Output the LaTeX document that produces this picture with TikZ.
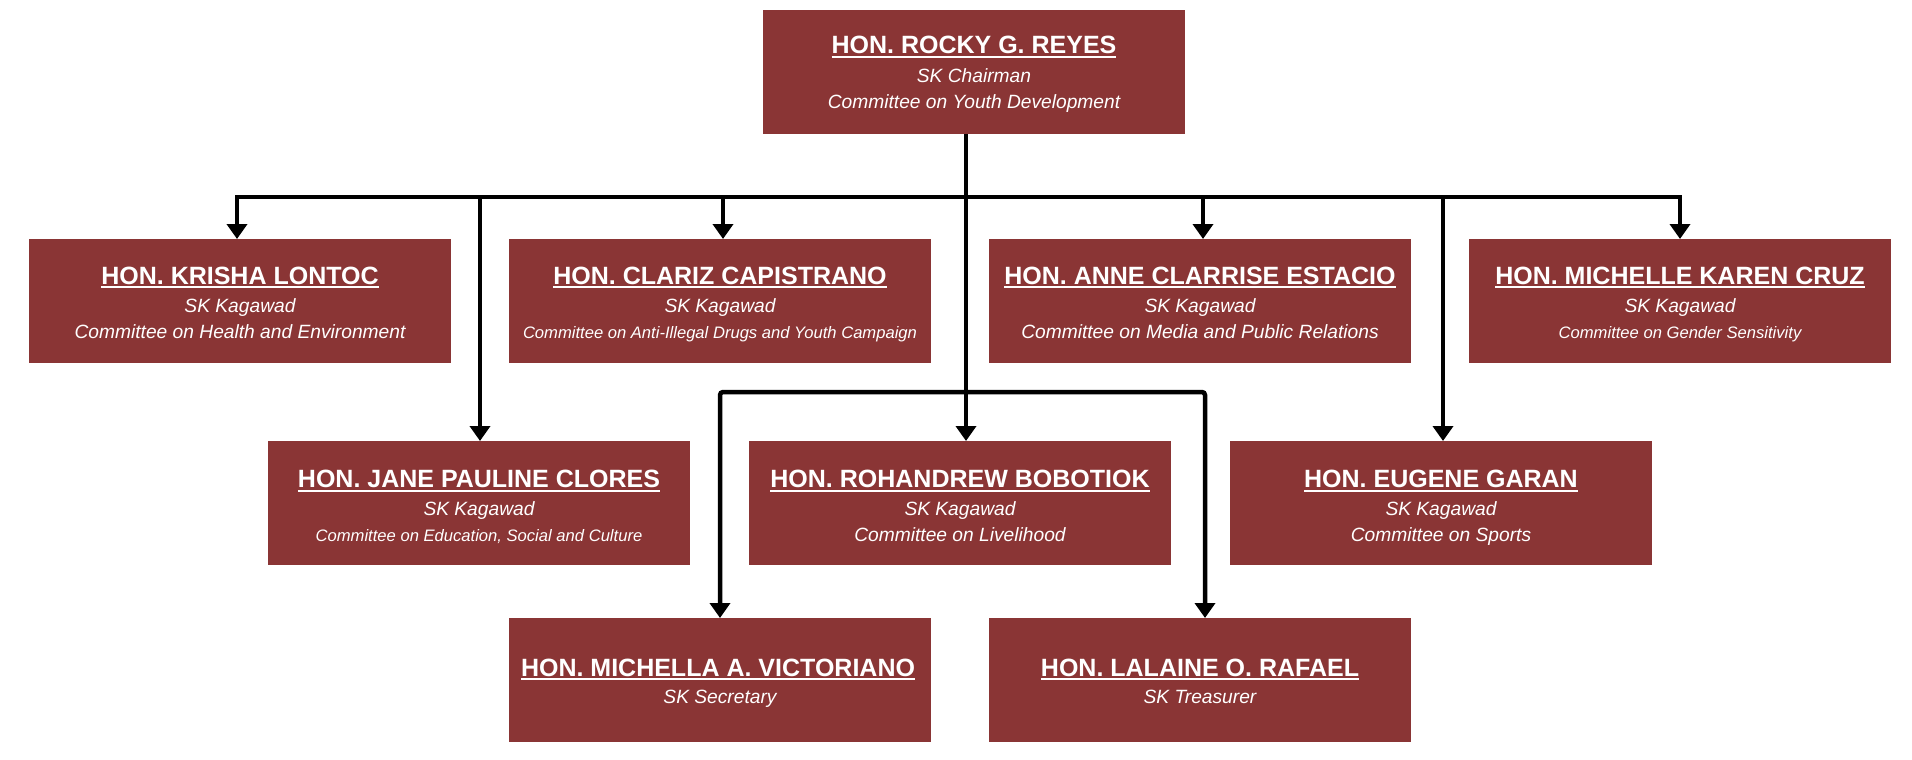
\documentclass[tikz,border=0pt]{standalone}
\usepackage{fontspec}
\setmainfont{Liberation Sans}
\usetikzlibrary{arrows.meta}
\definecolor{boxred}{HTML}{8A3535}
\newcommand\ulname[1]{\sbox0{#1}\makebox[0pt][l]{\usebox0}\rule[-4pt]{\wd0}{1.8pt}}
\newcommand\smallc{\fontsize{16.6}{20}\selectfont}
\tikzset{
  cardbox/.style={fill=boxred, draw=none, minimum width=422pt, minimum height=124pt, inner sep=0pt, outer sep=0pt},
  nmtxt/.style={anchor=base, inner sep=0pt, text=white, font=\fontsize{25}{29}\selectfont\bfseries},
  rltxt/.style={anchor=base, inner sep=0pt, text=white, font=\fontsize{19.2}{23}\selectfont\itshape},
  cmtxt/.style={anchor=base, inner sep=0pt, text=white, font=\fontsize{19.2}{23}\selectfont\itshape},
  busline/.style={line width=4.5pt, line cap=rect, draw=black},
  arrline/.style={line width=4.5pt, draw=black, -{Triangle[width=20pt,length=15pt]}},
}
\newcommand\card[7]{%
  \node[cardbox, anchor=north] (#1) at (#2,#3) {};
  \node[nmtxt] (#1n) at ([yshift={-(45+#7)*1pt}]#1.north) {\ulname{#4}};
  \node[rltxt] (#1r) at ([yshift={-(73+#7)*1pt}]#1.north) {#5};
  \node[cmtxt] (#1c) at ([yshift={-(99+#7)*1pt}]#1.north) {#6};
}
\begin{document}
\begin{tikzpicture}[x=1pt,y=-1pt]
\useasboundingbox[fill=white] (0,0) rectangle (1912,760);
\card{top}{974}{10}{HON. ROCKY G. REYES}{SK Chairman}{Committee on Youth Development}{-1}
\card{kri}{240}{239}{HON. KRISHA LONTOC}{SK Kagawad}{Committee on Health and Environment}{0}
\card{cla}{720}{239}{HON. CLARIZ CAPISTRANO}{SK Kagawad}{\smallc Committee on Anti-Illegal Drugs and Youth Campaign}{0}
\card{ann}{1200}{239}{HON. ANNE CLARRISE ESTACIO}{SK Kagawad}{Committee on Media and Public Relations}{0}
\card{cru}{1680}{239}{HON. MICHELLE KAREN CRUZ}{SK Kagawad}{\smallc Committee on Gender Sensitivity}{0}
\card{jan}{479}{441}{HON. JANE PAULINE CLORES}{SK Kagawad}{\smallc Committee on Education, Social and Culture}{1.5}
\card{rob}{960}{441}{HON. ROHANDREW BOBOTIOK}{SK Kagawad}{Committee on Livelihood}{1.5}
\card{eug}{1441}{441}{HON. EUGENE GARAN}{SK Kagawad}{Committee on Sports}{1.5}
% row 3
\node[cardbox, anchor=north] (mic) at (720,618) {};
\node[nmtxt] (micn) at ([xshift=-2pt,yshift=-58pt]mic.north) {\ulname{HON. MICHELLA A. VICTORIANO}};
\node[rltxt] (micr) at ([yshift=-85pt]mic.north) {SK Secretary};
\node[cardbox, anchor=north] (lal) at (1200,618) {};
\node[nmtxt] (laln) at ([yshift=-58pt]lal.north) {\ulname{HON. LALAINE O. RAFAEL}};
\node[rltxt] (lalr) at ([yshift=-85pt]lal.north) {SK Treasurer};
% connectors
\coordinate (busy) at (0,197);
\coordinate (bus2) at (0,392);
\draw[busline] ([xshift=-3pt]kri.north |- busy) -- (cru.north |- busy);
\draw[arrline] ([xshift=-8pt]top.south) -- ([xshift=6pt]rob.north);
\draw[arrline] ([xshift=-3pt]kri.north |- busy) -- ([xshift=-3pt]kri.north);
\draw[arrline] ([xshift=3pt]cla.north |- busy) -- ([xshift=3pt]cla.north);
\draw[arrline] ([xshift=3pt]ann.north |- busy) -- ([xshift=3pt]ann.north);
\draw[arrline] (cru.north |- busy) -- (cru.north);
\draw[arrline] ([xshift=1pt]jan.north |- busy) -- ([xshift=1pt]jan.north);
\draw[arrline] ([xshift=2pt]eug.north |- busy) -- ([xshift=2pt]eug.north);
\draw[line width=4.5pt, rounded corners=3pt, {Triangle[width=20pt,length=15pt]}-{Triangle[width=20pt,length=15pt]}]
  (mic.north) -- (mic.north |- bus2) -- ([xshift=5pt]lal.north |- bus2) -- ([xshift=5pt]lal.north);
\end{tikzpicture}
\end{document}
